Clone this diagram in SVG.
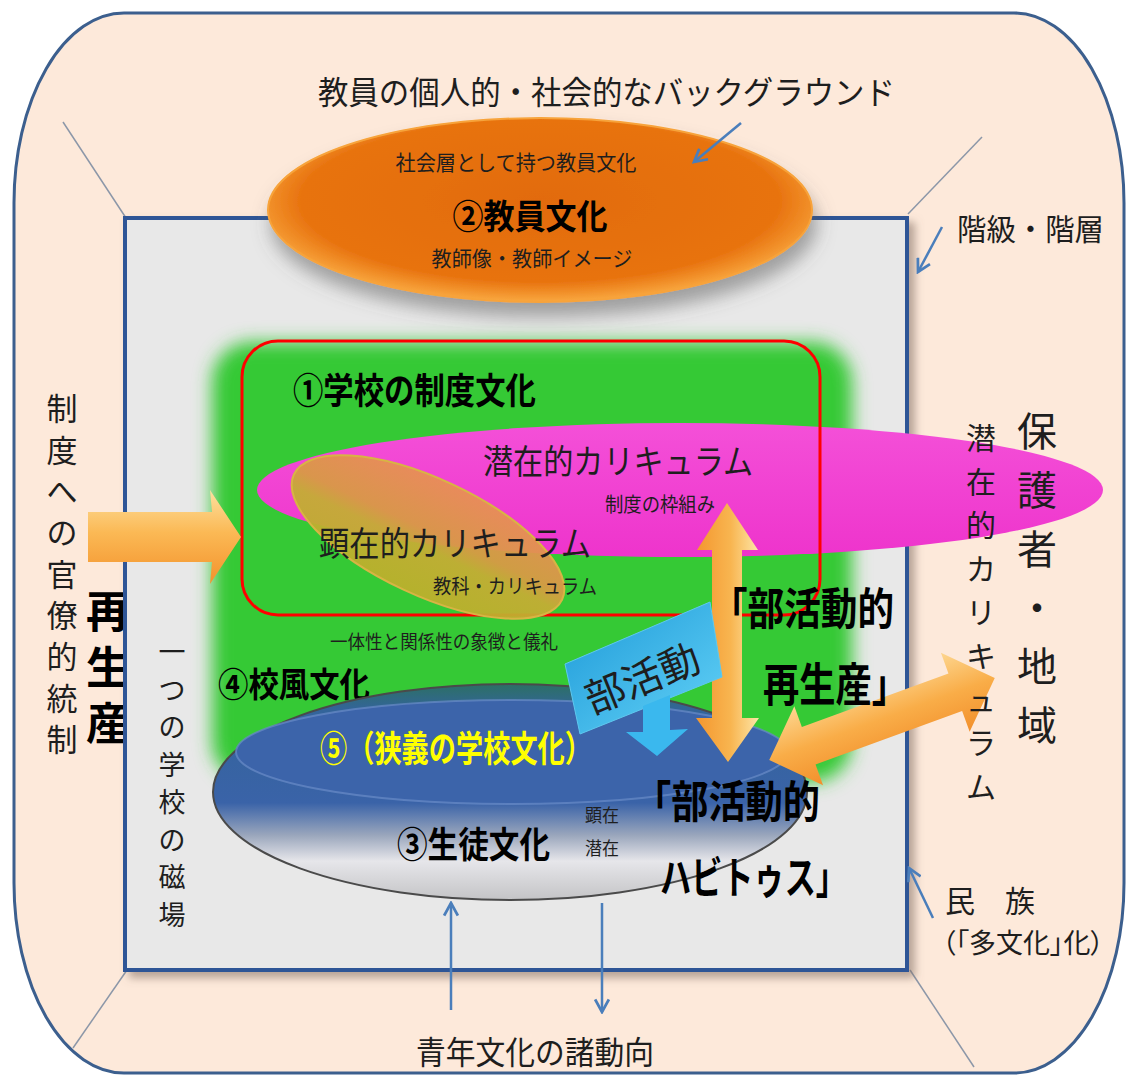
<svg xmlns="http://www.w3.org/2000/svg" width="1128" height="1076" viewBox="0 0 1128 1076">
<defs>
<style>
.t{font-family:"Noto Sans CJK JP","Noto Sans CJK SC",sans-serif;fill:#1e1e1e;}
.b{font-weight:700;fill:#000;}
.c{text-anchor:middle;}
.p{font-feature-settings:"palt";}
.conn{stroke:#4a7ebb;stroke-width:2.5;fill:none;marker-end:url(#ah);}
.diag{stroke:#8c97a8;stroke-width:1.5;fill:none;}
</style>
<marker id="ah" viewBox="0 0 14 14" refX="12" refY="7" markerWidth="16" markerHeight="16" markerUnits="userSpaceOnUse" orient="auto"><path d="M1,1 L12,7 L1,13" fill="none" stroke="#4a7ebb" stroke-width="2.4"/></marker>
<filter id="shadow" x="-10%" y="-10%" width="130%" height="130%"><feDropShadow dx="6" dy="6" stdDeviation="4" flood-color="#7d6a60" flood-opacity="0.55"/></filter>
<filter id="eshadow" x="-20%" y="-20%" width="140%" height="160%"><feDropShadow dx="4" dy="14" stdDeviation="9" flood-color="#555" flood-opacity="0.5"/></filter>
<filter id="glow" x="-10%" y="-10%" width="120%" height="120%"><feGaussianBlur stdDeviation="9"/></filter>
<radialGradient id="gOrange" cx="0.5" cy="0.45" r="0.55"><stop offset="0" stop-color="#e26b0a"/><stop offset="0.8" stop-color="#e8730f"/><stop offset="1" stop-color="#f9a840"/></radialGradient>
<linearGradient id="gMag" x1="0" y1="0" x2="0" y2="1"><stop offset="0" stop-color="#f450d8"/><stop offset="1" stop-color="#ee34cc"/></linearGradient>
<linearGradient id="gOlive" x1="0" y1="0" x2="0" y2="1"><stop offset="0" stop-color="#e88f55"/><stop offset="0.45" stop-color="#d89a45"/><stop offset="0.6" stop-color="#c4ad34"/><stop offset="1" stop-color="#bcb02c"/></linearGradient>
<linearGradient id="gStu" x1="0" y1="0" x2="0" y2="1"><stop offset="0" stop-color="#2c7064"/><stop offset="0.12" stop-color="#33649a"/><stop offset="0.55" stop-color="#3a63a8"/><stop offset="0.7" stop-color="#9aa6bc"/><stop offset="0.82" stop-color="#e6e6ea"/><stop offset="1" stop-color="#c4c4c6"/></linearGradient>
<linearGradient id="gArrH" x1="0" y1="0" x2="0" y2="1"><stop offset="0" stop-color="#fde0a0"/><stop offset="0.45" stop-color="#fbb955"/><stop offset="1" stop-color="#f3922c"/></linearGradient>
<linearGradient id="gArrV" x1="0" y1="0" x2="1" y2="0"><stop offset="0" stop-color="#f4962e"/><stop offset="0.55" stop-color="#f8b550"/><stop offset="1" stop-color="#fde6a8"/></linearGradient>
<linearGradient id="gArrD" x1="0" y1="0" x2="0" y2="1"><stop offset="0" stop-color="#fdd690"/><stop offset="0.5" stop-color="#f9ad48"/><stop offset="1" stop-color="#f2902c"/></linearGradient>
<linearGradient id="gCyan" x1="0" y1="0" x2="1" y2="1"><stop offset="0" stop-color="#1e9ad8"/><stop offset="1" stop-color="#63d2f7"/></linearGradient>
</defs>

<g id="background">
<rect x="14" y="13" width="1110" height="1060" rx="110" ry="190" fill="#fde9da" stroke="#3c5f8e" stroke-width="3"/>
<line class="diag" x1="63" y1="122" x2="126" y2="218"/>
<line class="diag" x1="982" y1="137" x2="908" y2="214"/>
<line class="diag" x1="73" y1="1048" x2="127" y2="970"/>
<line class="diag" x1="910" y1="970" x2="974" y2="1067"/>
<text class="t" x="318" y="104" font-size="32" textLength="577" lengthAdjust="spacingAndGlyphs" fill="#333">教員の個人的・社会的なバックグラウンド</text>
<text class="t" x="957" y="240" font-size="30" textLength="147" lengthAdjust="spacingAndGlyphs">階級・階層</text>
<text class="t" x="945" y="912" font-size="30" textLength="90" lengthAdjust="spacingAndGlyphs">民　族</text>
<text class="t p" x="942" y="953" font-size="27">（「多文化」化）</text>
<text class="t" x="416" y="1064" font-size="32" textLength="238" lengthAdjust="spacingAndGlyphs">青年文化の諸動向</text>
<text class="t c" font-size="31"><tspan x="62" y="420">制</tspan><tspan x="62" y="462">度</tspan><tspan x="62" y="503">へ</tspan><tspan x="62" y="544">の</tspan><tspan x="62" y="586">官</tspan><tspan x="62" y="627">僚</tspan><tspan x="62" y="668">的</tspan><tspan x="62" y="710">統</tspan><tspan x="62" y="751">制</tspan></text>
<text class="t b" x="108" y="589" font-size="44" writing-mode="vertical-rl" letter-spacing="12">再生産</text>
</g>

<g id="school-field">
<rect x="125" y="218" width="782" height="752" fill="#e8e8e8" stroke="#2f5496" stroke-width="4" filter="url(#shadow)"/>
<text class="t c" font-size="27"><tspan x="172" y="662">一</tspan><tspan x="172" y="700">つ</tspan><tspan x="172" y="737">の</tspan><tspan x="172" y="775">学</tspan><tspan x="172" y="812">校</tspan><tspan x="172" y="850">の</tspan><tspan x="172" y="887">磁</tspan><tspan x="172" y="925">場</tspan></text>
</g>

<g id="node-teacher-culture">
<ellipse cx="540" cy="210" rx="272" ry="92" fill="url(#gOrange)" stroke="#f7a33a" stroke-width="2" filter="url(#eshadow)"/>
<text class="t c" x="516" y="170" font-size="21" textLength="241" lengthAdjust="spacingAndGlyphs">社会層として持つ教員文化</text>
<text class="t b c" x="530" y="229" font-size="34" textLength="155" lengthAdjust="spacingAndGlyphs">②教員文化</text>
<text class="t c" x="532" y="266" font-size="21" textLength="201" lengthAdjust="spacingAndGlyphs">教師像・教師イメージ</text>
</g>

<g id="node-school-climate">
<rect x="212" y="342" width="640" height="440" rx="40" fill="#34c934" filter="url(#glow)"/>
<text class="t c" x="444" y="649" font-size="19" textLength="228" lengthAdjust="spacingAndGlyphs">一体性と関係性の象徴と儀礼</text>
<text class="t b" x="218" y="697" font-size="34" textLength="152" lengthAdjust="spacingAndGlyphs">④校風文化</text>
</g>

<g id="node-hidden-curriculum">
<ellipse cx="680" cy="490" rx="423" ry="67" fill="url(#gMag)"/>
<text class="t" x="483" y="474" font-size="34" textLength="270" lengthAdjust="spacingAndGlyphs">潜在的カリキュラム</text>
<text class="t" x="605" y="512" font-size="20" textLength="110" lengthAdjust="spacingAndGlyphs">制度の枠組み</text>
</g>

<g id="node-institutional-culture">
<rect x="242" y="341" width="578" height="274" rx="36" fill="none" stroke="#ff0000" stroke-width="3"/>
<text class="t b" x="293" y="404" font-size="36" textLength="243" lengthAdjust="spacingAndGlyphs">①学校の制度文化</text>
</g>

<g id="node-explicit-curriculum">
<ellipse cx="428" cy="537" rx="148" ry="58" transform="rotate(25 428 537)" fill="url(#gOlive)" fill-opacity="0.95" stroke="#d8b444" stroke-width="2"/>
<text class="t" x="319" y="556" font-size="34" textLength="272" lengthAdjust="spacingAndGlyphs">顕在的カリキュラム</text>
<text class="t" x="433" y="594" font-size="20" textLength="164" lengthAdjust="spacingAndGlyphs">教科・カリキュラム</text>
</g>

<g id="node-student-culture">
<ellipse cx="510" cy="792" rx="297" ry="108" fill="url(#gStu)" stroke="#4a4a4a" stroke-width="2"/>
<ellipse cx="512" cy="752" rx="276" ry="52" fill="#3c64aa" stroke="#6a8cc8" stroke-width="2" stroke-opacity="0.7"/>
<text class="t b" x="320" y="762" font-size="36" textLength="272" lengthAdjust="spacingAndGlyphs" style="fill:#ffff00">⑤（狭義の学校文化）</text>
<text class="t b" x="397" y="858" font-size="36" textLength="153" lengthAdjust="spacingAndGlyphs">③生徒文化</text>
<text class="t" x="585" y="822" font-size="18" textLength="34" lengthAdjust="spacingAndGlyphs">顕在</text>
<text class="t" x="585" y="855" font-size="18" textLength="34" lengthAdjust="spacingAndGlyphs">潜在</text>
</g>

<g id="connectors">
<line class="conn" x1="741" y1="123" x2="694" y2="162"/>
<line class="conn" x1="942" y1="227" x2="918" y2="272"/>
<line class="conn" x1="933" y1="918" x2="909" y2="868"/>
<line class="conn" x1="451" y1="1010" x2="451" y2="903"/>
<line class="conn" x1="602" y1="903" x2="602" y2="1012"/>
<polygon points="88,512 212,512 210,490 241,537 210,584 212,562 88,562" fill="url(#gArrH)"/>
<polygon points="727,503 758,550 742,550 742,718 759,718 728,762 696,718 712,718 712,550 697,550" fill="url(#gArrV)"/>
<g transform="translate(882 719) rotate(-20)">
<polygon points="-120,0 -78,-42 -78,-20 78,-20 78,-42 120,0 78,42 78,20 -78,20 -78,42" fill="url(#gArrD)"/>
</g>
<polygon points="565,664 710,602 722,677 580,734" fill="url(#gCyan)" stroke="#5ec8ef" stroke-width="1"/>
<polygon points="643,706 670,695 670,730 688,729 657,756 626,732 643,732" fill="#3ab8ee"/>
</g>

<g id="labels">
<text class="t" x="642" y="693" font-size="40" text-anchor="middle" transform="rotate(-22 642 678)">部活動</text>
<text class="t b" x="711" y="625" font-size="44" textLength="183" lengthAdjust="spacingAndGlyphs">「部活動的</text>
<text class="t b" x="763" y="701" font-size="46" textLength="145" lengthAdjust="spacingAndGlyphs">再生産」</text>
<text class="t b" x="634" y="818" font-size="44" textLength="186" lengthAdjust="spacingAndGlyphs">「部活動的</text>
<text class="t b" x="660" y="894" font-size="44" textLength="187" lengthAdjust="spacingAndGlyphs">ハビトゥス」</text>
<text class="t c" font-size="30"><tspan x="981" y="449">潜</tspan><tspan x="981" y="493">在</tspan><tspan x="981" y="536">的</tspan><tspan x="981" y="580">カ</tspan><tspan x="981" y="623">リ</tspan><tspan x="981" y="667">キ</tspan><tspan x="981" y="711">ュ</tspan><tspan x="981" y="754">ラ</tspan><tspan x="981" y="798">ム</tspan></text>
<text class="t c" font-size="40"><tspan x="1037" y="446">保</tspan><tspan x="1037" y="505">護</tspan><tspan x="1037" y="564">者</tspan><tspan x="1037" y="623">・</tspan><tspan x="1037" y="681">地</tspan><tspan x="1037" y="740">域</tspan></text>
</g>
</svg>
